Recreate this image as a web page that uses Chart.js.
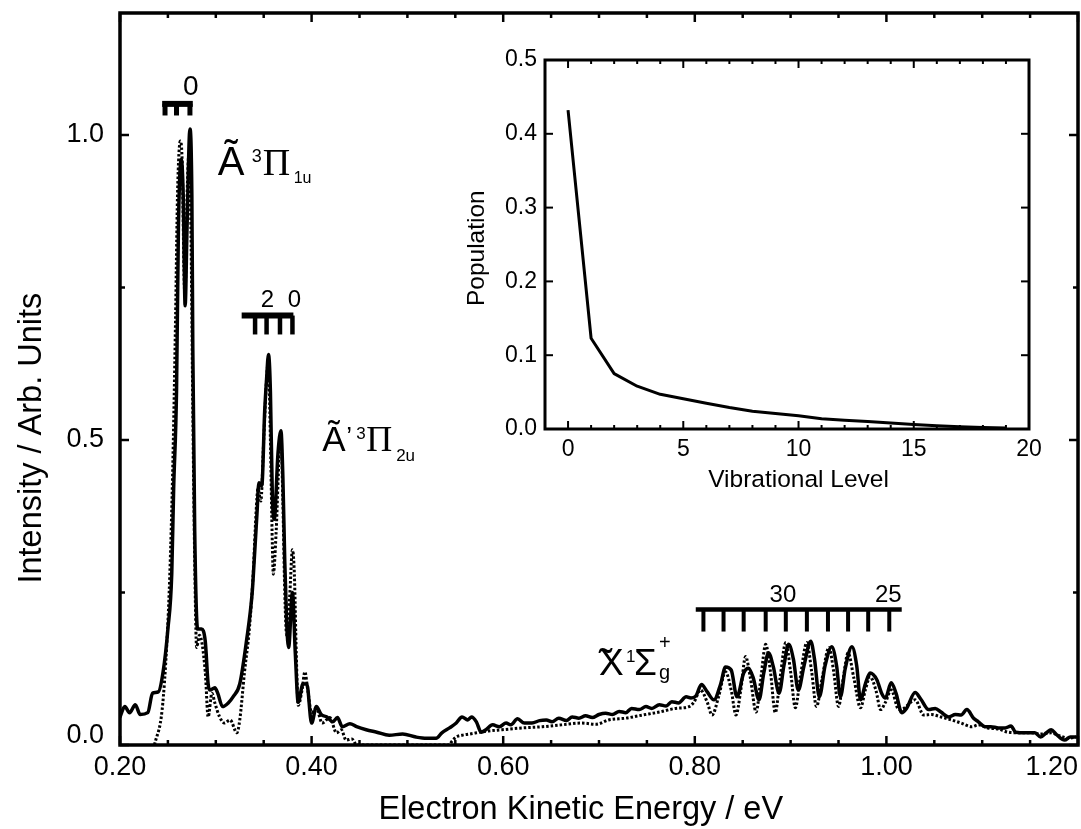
<!DOCTYPE html>
<html><head><meta charset="utf-8">
<script src="https://cdn.jsdelivr.net/npm/chart.js@4.4.1/dist/chart.umd.min.js"></script>
<style>
html,body{margin:0;padding:0;background:#fff;}
#wrap{position:relative;width:1081px;height:829px;overflow:hidden;background:#fff;}
#main{position:absolute;left:0;top:0;}
#inset{position:absolute;left:420px;top:20px;}
</style></head><body>
<div id="wrap"><canvas id="main" width="1081" height="829"></canvas><canvas id="inset" width="640" height="490"></canvas></div>
<script>
// ---------- DATA ----------
// Electron kinetic energy (eV) / intensity pairs, solid trace
const solidCurve = [
[0.200,0.046],[0.205,0.063],[0.210,0.053],[0.216,0.066],[0.221,0.050],[0.229,0.053],[0.234,0.085],[0.240,0.087],
[0.245,0.120],[0.250,0.190],[0.254,0.280],[0.256,0.420],[0.259,0.580],[0.261,0.850],[0.264,0.960],[0.266,0.900],
[0.268,0.720],[0.270,0.850],[0.273,1.010],[0.275,0.900],[0.276,0.650],[0.278,0.350],[0.281,0.190],[0.285,0.190],
[0.289,0.170],[0.292,0.100],[0.294,0.090],[0.299,0.094],[0.302,0.085],[0.307,0.063],[0.313,0.069],[0.318,0.079],
[0.325,0.100],[0.332,0.170],[0.338,0.250],[0.340,0.300],[0.343,0.380],[0.345,0.430],[0.348,0.425],[0.351,0.546],
[0.353,0.600],[0.355,0.640],[0.357,0.580],[0.359,0.410],[0.361,0.370],[0.365,0.480],[0.368,0.515],[0.370,0.440],
[0.372,0.300],[0.374,0.200],[0.376,0.160],[0.380,0.250],[0.383,0.150],[0.386,0.070],[0.391,0.100],[0.395,0.100],
[0.400,0.036],[0.405,0.063],[0.410,0.050],[0.416,0.046],[0.422,0.038],[0.427,0.045],[0.432,0.030],[0.440,0.035],
[0.447,0.030],[0.457,0.025],[0.468,0.021],[0.481,0.016],[0.495,0.018],[0.509,0.013],[0.520,0.011],[0.530,0.011],
[0.536,0.020],[0.544,0.028],[0.551,0.036],[0.557,0.046],[0.563,0.041],[0.567,0.046],[0.572,0.038],[0.577,0.021],
[0.582,0.025],[0.589,0.033],[0.596,0.030],[0.603,0.036],[0.608,0.033],[0.615,0.043],[0.622,0.036],[0.630,0.036],
[0.638,0.040],[0.645,0.041],[0.651,0.038],[0.658,0.044],[0.666,0.040],[0.672,0.046],[0.679,0.044],[0.686,0.048],
[0.693,0.045],[0.700,0.050],[0.707,0.052],[0.714,0.050],[0.721,0.055],[0.728,0.053],[0.734,0.060],[0.742,0.058],
[0.749,0.063],[0.755,0.060],[0.763,0.066],[0.770,0.064],[0.776,0.071],[0.783,0.069],[0.791,0.079],[0.796,0.077],
[0.801,0.080],[0.807,0.099],[0.813,0.087],[0.820,0.074],[0.827,0.100],[0.832,0.128],[0.838,0.123],[0.844,0.079],
[0.851,0.118],[0.856,0.126],[0.861,0.110],[0.867,0.074],[0.872,0.118],[0.877,0.151],[0.882,0.128],[0.888,0.085],
[0.893,0.130],[0.898,0.165],[0.903,0.140],[0.908,0.090],[0.914,0.130],[0.921,0.170],[0.925,0.140],[0.930,0.079],
[0.936,0.130],[0.943,0.161],[0.948,0.130],[0.952,0.079],[0.957,0.125],[0.964,0.161],[0.969,0.130],[0.973,0.074],
[0.978,0.100],[0.983,0.118],[0.990,0.107],[0.995,0.085],[0.999,0.077],[1.005,0.102],[1.010,0.085],[1.016,0.053],
[1.021,0.060],[1.030,0.086],[1.036,0.075],[1.044,0.058],[1.051,0.060],[1.057,0.054],[1.065,0.046],[1.072,0.050],
[1.078,0.049],[1.084,0.058],[1.091,0.044],[1.096,0.038],[1.103,0.030],[1.109,0.030],[1.117,0.028],[1.124,0.028],
[1.130,0.031],[1.135,0.021],[1.145,0.020],[1.155,0.020],[1.161,0.013],[1.167,0.020],[1.172,0.025],[1.177,0.018],
[1.186,0.008],[1.192,0.013],[1.198,0.013]
];
// dotted trace
const dottedCurve = [
[0.236,0.000],[0.244,0.058],[0.249,0.170],[0.252,0.280],[0.255,0.450],[0.258,0.700],[0.260,0.900],[0.263,0.990],
[0.265,0.950],[0.267,0.760],[0.268,0.740],[0.270,0.900],[0.272,0.970],[0.274,0.850],[0.276,0.550],[0.278,0.300],
[0.280,0.160],[0.283,0.180],[0.289,0.120],[0.292,0.046],[0.296,0.085],[0.299,0.069],[0.304,0.046],[0.309,0.036],
[0.315,0.041],[0.322,0.020],[0.325,0.041],[0.330,0.120],[0.335,0.190],[0.339,0.280],[0.342,0.380],[0.344,0.420],
[0.347,0.400],[0.350,0.500],[0.353,0.600],[0.355,0.630],[0.357,0.500],[0.359,0.330],[0.360,0.280],[0.363,0.350],
[0.366,0.470],[0.368,0.500],[0.370,0.400],[0.372,0.250],[0.374,0.180],[0.377,0.240],[0.380,0.320],[0.382,0.280],
[0.384,0.150],[0.386,0.065],[0.390,0.090],[0.393,0.120],[0.396,0.090],[0.400,0.053],[0.405,0.060],[0.411,0.036],
[0.419,0.045],[0.426,0.020],[0.431,0.025],[0.436,0.008],[0.442,0.010],[0.447,0.000],[0.544,0.000],[0.546,0.005],
[0.551,0.013],[0.557,0.016],[0.565,0.018],[0.572,0.020],[0.585,0.023],[0.599,0.025],[0.620,0.028],[0.641,0.030],
[0.661,0.033],[0.682,0.036],[0.697,0.034],[0.710,0.041],[0.728,0.044],[0.745,0.049],[0.763,0.054],[0.780,0.060],
[0.794,0.063],[0.799,0.070],[0.806,0.090],[0.813,0.070],[0.818,0.049],[0.825,0.080],[0.832,0.120],[0.838,0.090],
[0.843,0.049],[0.848,0.090],[0.853,0.145],[0.858,0.110],[0.864,0.054],[0.869,0.110],[0.874,0.165],[0.879,0.120],
[0.884,0.053],[0.889,0.110],[0.895,0.168],[0.900,0.120],[0.905,0.061],[0.910,0.110],[0.917,0.168],[0.922,0.120],
[0.927,0.063],[0.933,0.110],[0.940,0.160],[0.945,0.120],[0.950,0.063],[0.955,0.110],[0.960,0.151],[0.966,0.110],
[0.973,0.061],[0.978,0.090],[0.983,0.112],[0.989,0.090],[0.994,0.058],[0.999,0.070],[1.005,0.090],[1.013,0.058],
[1.018,0.060],[1.030,0.074],[1.039,0.049],[1.047,0.050],[1.057,0.046],[1.068,0.041],[1.078,0.036],[1.089,0.030],
[1.096,0.033],[1.106,0.028],[1.117,0.026],[1.127,0.021],[1.138,0.020],[1.151,0.020],[1.161,0.018],[1.172,0.020],
[1.181,0.015],[1.190,0.011],[1.198,0.013]
];
// inset: vibrational population distribution
const vibLevels  = [0,1,2,3,4,5,6,7,8,9,10,11,12,13,14,15,16,17,18,19];
const population = [0.432,0.123,0.075,0.058,0.047,0.041,0.035,0.029,0.024,0.021,0.018,0.014,0.012,0.010,0.008,0.006,0.0045,0.003,0.002,0.0015];

// vibrational progression combs (eV positions of the comb teeth)
const aCombTicks      = [0.247,0.259,0.273];
const aPrimeCombTicks = [0.341,0.353,0.367,0.380];
const xCombTicks      = [0.809,0.830,0.851,0.874,0.895,0.917,0.939,0.960,0.981,1.003];

// tick values and labels
const mainXTicks      = [0.2,0.4,0.6,0.8,1.0,1.2];
const mainXTickLabels = ['0.20','0.40','0.60','0.80','1.00','1.20'];
const mainXMinor      = [0.25,0.30,0.35,0.45,0.50,0.55,0.65,0.70,0.75,0.85,0.90,0.95,1.05,1.10,1.15];
const mainYTicks      = [0,0.5,1.0];
const mainYTickLabels = ['0.0','0.5','1.0'];
const mainYMinor      = [0.25,0.75];
const insetXTicks      = [0,5,10,15,20];
const insetXTickLabels = ['0','5','10','15','20'];
const insetXMinor      = [1,2,3,4,6,7,8,9,11,12,13,14,16,17,18,19];
const insetYTicks      = [0,0.1,0.2,0.3,0.4,0.5];
const insetYTickLabels = ['0.0','0.1','0.2','0.3','0.4','0.5'];
const insetYMinor      = [];

// ---------- helpers ----------
const SANS = '"Liberation Sans", Arial, Helvetica, sans-serif';
const SERIF = '"Liberation Serif", "Times New Roman", serif';

function line(ctx,x1,y1,x2,y2){ctx.beginPath();ctx.moveTo(x1,y1);ctx.lineTo(x2,y2);ctx.stroke();}

function drawFrame(chart, cfg){
  const ctx = chart.ctx, a = chart.chartArea, xs = chart.scales.x, ys = chart.scales.y;
  ctx.save();
  ctx.strokeStyle = '#000'; ctx.lineCap = 'butt';
  ctx.lineWidth = cfg.tickWidth;
  cfg.xMajor.forEach(v=>{const p=xs.getPixelForValue(v); line(ctx,p,a.bottom,p,a.bottom-cfg.majorLen); line(ctx,p,a.top,p,a.top+cfg.majorLen);});
  cfg.xMinor.forEach(v=>{const p=xs.getPixelForValue(v); line(ctx,p,a.bottom,p,a.bottom-cfg.minorLen); line(ctx,p,a.top,p,a.top+cfg.minorLen);});
  cfg.yMajor.forEach(v=>{const p=ys.getPixelForValue(v); line(ctx,a.left,p,a.left+cfg.majorLen,p); line(ctx,a.right,p,a.right-cfg.majorLen,p);});
  cfg.yMinor.forEach(v=>{const p=ys.getPixelForValue(v); line(ctx,a.left,p,a.left+cfg.minorLen,p); line(ctx,a.right,p,a.right-cfg.minorLen,p);});
  ctx.lineWidth = cfg.frameWidth; ctx.lineJoin = 'miter';
  ctx.strokeRect(a.left, a.top, a.right-a.left, a.bottom-a.top);
  // tick labels
  ctx.fillStyle = '#000';
  ctx.font = cfg.tickFont;
  ctx.textBaseline = 'top';
  cfg.xMajor.forEach((v,i)=>{
    const w = ctx.measureText(cfg.xLabels[i]).width;
    let p = xs.getPixelForValue(v) - w/2;
    p = Math.min(p, chart.width - w - 3);
    ctx.textAlign = 'left';
    ctx.fillText(cfg.xLabels[i], p, a.bottom + cfg.xLabelGap);
  });
  ctx.textAlign = 'right'; ctx.textBaseline = 'middle';
  cfg.yMajor.forEach((v,i)=>{
    let p = ys.getPixelForValue(v);
    p = Math.min(p, a.bottom - cfg.yLabelLift);
    ctx.fillText(cfg.yLabels[i], a.left - cfg.yLabelGap, p);
  });
  // axis titles
  ctx.font = cfg.titleFont;
  ctx.textAlign = 'center'; ctx.textBaseline = 'alphabetic';
  ctx.fillText(cfg.xTitle, xs.getPixelForValue(cfg.xTitleAt), cfg.xTitleY);
  ctx.save();
  ctx.translate(cfg.yTitleX, ys.getPixelForValue(cfg.yTitleAt));
  ctx.rotate(-Math.PI/2);
  ctx.textBaseline = 'middle';
  ctx.fillText(cfg.yTitle, 0, 0);
  ctx.restore();
  ctx.restore();
}

function drawComb(ctx, xs, ys, ticks, x0, x1, yBar, yLeg, barW, legW){
  const yb = ys.getPixelForValue(yBar), yl = ys.getPixelForValue(yLeg);
  ctx.lineWidth = barW; ctx.lineCap='butt';
  line(ctx, xs.getPixelForValue(x0), yb, xs.getPixelForValue(x1), yb);
  ctx.lineWidth = legW;
  ticks.forEach(t=>{const p=xs.getPixelForValue(t); line(ctx,p,yb,p,yl);});
}

function drawParts(ctx, x, y, parts){
  ctx.textAlign='left'; ctx.textBaseline='alphabetic';
  parts.forEach(p=>{ctx.font=p.font; ctx.fillText(p.t, x+p.dx, y+p.dy);});
}

const annotationPlugin = {
  id:'annotations',
  afterDatasetsDraw(chart){
    const ctx = chart.ctx, xs = chart.scales.x, ys = chart.scales.y;
    ctx.save(); ctx.strokeStyle='#000'; ctx.fillStyle='#000';
    drawComb(ctx,xs,ys,aCombTicks,0.244,0.276,1.051,1.032,6,5);
    drawComb(ctx,xs,ys,aPrimeCombTicks,0.327,0.381,0.704,0.673,6,4.5);
    drawComb(ctx,xs,ys,xCombTicks,0.801,1.016,0.222,0.186,4.5,4);
    // comb numbers
    ctx.textAlign='center'; ctx.textBaseline='alphabetic';
    ctx.font = '28px '+SANS;
    ctx.fillText('0', xs.getPixelForValue(0.274), ys.getPixelForValue(1.066));
    ctx.font = '24px '+SANS;
    ctx.fillText('2', xs.getPixelForValue(0.354), ys.getPixelForValue(0.718));
    ctx.fillText('0', xs.getPixelForValue(0.382), ys.getPixelForValue(0.718));
    ctx.fillText('30', xs.getPixelForValue(0.892), ys.getPixelForValue(0.234));
    ctx.fillText('25', xs.getPixelForValue(1.002), ys.getPixelForValue(0.234));
    // electronic state labels
    drawParts(ctx, xs.getPixelForValue(0.302), ys.getPixelForValue(0.934), [
      {t:'\u00C3', font:'40px '+SANS, dx:0, dy:0},
      {t:'3', font:'18px '+SANS, dx:34, dy:-13},
      {t:'\u03A0', font:'38px '+SERIF, dx:45, dy:0},
      {t:'1u', font:'16px '+SANS, dx:76, dy:8}
    ]);
    drawParts(ctx, xs.getPixelForValue(0.411), ys.getPixelForValue(0.482), [
      {t:'\u00C3', font:'35px '+SANS, dx:0, dy:0},
      {t:'\u2019', font:'26px '+SANS, dx:24, dy:-6},
      {t:'3', font:'17px '+SANS, dx:34, dy:-12},
      {t:'\u03A0', font:'36px '+SERIF, dx:44, dy:0},
      {t:'2u', font:'17px '+SANS, dx:74, dy:10}
    ]);
    drawParts(ctx, xs.getPixelForValue(0.700), ys.getPixelForValue(0.115), [
      {t:'X', font:'37px '+SANS, dx:0, dy:0},
      {t:'\u02DC', font:'40px '+SANS, dx:0, dy:2},
      {t:'1', font:'17px '+SANS, dx:27, dy:-13},
      {t:'\u03A3', font:'37px '+SANS, dx:35, dy:0},
      {t:'+', font:'20px '+SANS, dx:60, dy:-26},
      {t:'g', font:'20px '+SANS, dx:60, dy:4}
    ]);
    ctx.restore();
  },
  afterDraw(chart){
    drawFrame(chart,{
      frameWidth:3.5, tickWidth:2.5, majorLen:9, minorLen:5,
      xMajor:mainXTicks, xMinor:mainXMinor, yMajor:mainYTicks, yMinor:mainYMinor,
      xLabels:mainXTickLabels, yLabels:mainYTickLabels,
      tickFont:'27px '+SANS, xLabelGap:9.5, yLabelGap:16, yLabelLift:9,
      titleFont:'32.5px '+SANS, xTitle:'Electron Kinetic Energy / eV', xTitleAt:0.681, xTitleY:819,
      yTitle:'Intensity / Arb. Units', yTitleX:32, yTitleAt:0.503
    });
  }
};

new Chart(document.getElementById('main'), {
  type:'scatter',
  data:{datasets:[
    {data: solidCurve.map(p=>({x:p[0],y:p[1]})), showLine:true, borderColor:'#000', borderWidth:3.5,
     pointRadius:0, cubicInterpolationMode:'monotone', borderJoinStyle:'round', borderCapStyle:'round'},
    {data: dottedCurve.map(p=>({x:p[0],y:p[1]})), showLine:true, borderColor:'#000', borderWidth:3,
     borderDash:[2.5,2], pointRadius:0, cubicInterpolationMode:'monotone'}
  ]},
  options:{
    responsive:false, animation:false, devicePixelRatio:1,
    layout:{padding:{top:13,right:3,left:0,bottom:0}},
    plugins:{legend:{display:false}, tooltip:{enabled:false}},
    scales:{
      x:{type:'linear', min:0.2, max:1.2, ticks:{display:false}, grid:{display:false}, border:{display:false},
         afterFit(s){s.height=84;}},
      y:{type:'linear', min:0, max:1.2, ticks:{display:false}, grid:{display:false}, border:{display:false},
         afterFit(s){s.width=120;}}
    }
  },
  plugins:[annotationPlugin]
});

const insetPlugin = {
  id:'insetFrame',
  beforeDraw(chart){
    const a = chart.chartArea, ctx = chart.ctx;
    ctx.save(); ctx.fillStyle='#fff'; ctx.fillRect(a.left,a.top,a.right-a.left,a.bottom-a.top); ctx.restore();
  },
  afterDraw(chart){
    drawFrame(chart,{
      frameWidth:3, tickWidth:2, majorLen:8, minorLen:4,
      xMajor:insetXTicks, xMinor:insetXMinor, yMajor:insetYTicks, yMinor:insetYMinor,
      xLabels:insetXTickLabels, yLabels:insetYTickLabels,
      tickFont:'23px '+SANS, xLabelGap:9, yLabelGap:8, yLabelLift:-100,
      titleFont:'24.5px '+SANS, xTitle:'Vibrational Level', xTitleAt:10, xTitleY:467,
      yTitle:'Population', yTitleX:57, yTitleAt:0.245
    });
  }
};

new Chart(document.getElementById('inset'), {
  type:'line',
  data:{datasets:[
    {data: vibLevels.map((v,i)=>({x:v,y:population[i]})), borderColor:'#000', borderWidth:3,
     pointRadius:0, tension:0, borderJoinStyle:'round'}
  ]},
  options:{
    responsive:false, animation:false, devicePixelRatio:1,
    layout:{padding:{top:40,right:31,left:0,bottom:0}},
    plugins:{legend:{display:false}, tooltip:{enabled:false}},
    scales:{
      x:{type:'linear', min:-1, max:20, ticks:{display:false}, grid:{display:false}, border:{display:false},
         afterFit(s){s.height=81;}},
      y:{type:'linear', min:0, max:0.5, ticks:{display:false}, grid:{display:false}, border:{display:false},
         afterFit(s){s.width=125;}}
    }
  },
  plugins:[insetPlugin]
});
</script></body></html>
